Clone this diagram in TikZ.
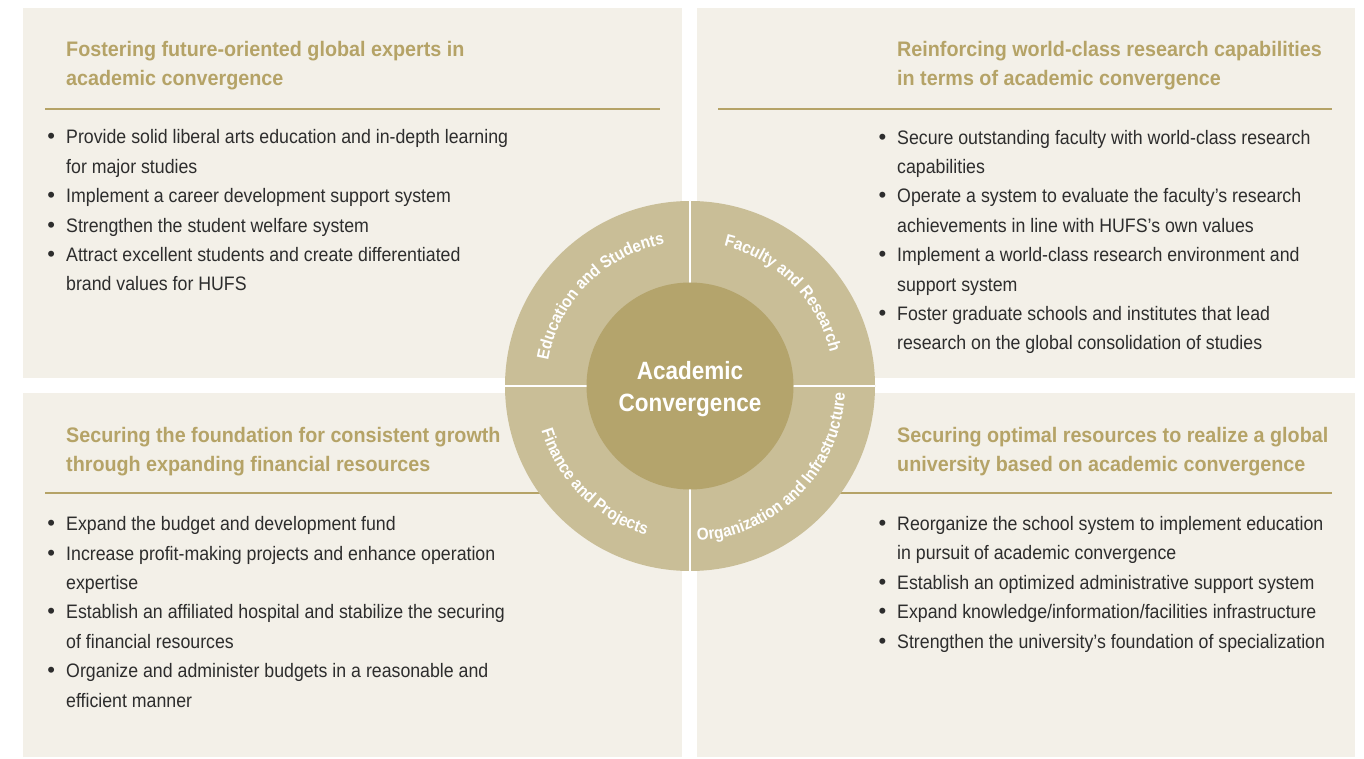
\documentclass[tikz,border=0pt]{standalone}
\usepackage{fontspec}
\setmainfont[FakeStretch=0.91]{Liberation Sans}
\newfontfamily\ttlfont[FakeStretch=0.94]{Liberation Sans}
\newfontfamily\corefont[FakeStretch=0.9]{Liberation Sans}
\newfontfamily\bulfont{Liberation Sans}
\usetikzlibrary{positioning,decorations.text}

\definecolor{panelbg}{RGB}{243,240,232}
\definecolor{ringc}{RGB}{201,190,151}
\definecolor{corec}{RGB}{180,164,108}
\definecolor{golden}{RGB}{181,163,103}
\definecolor{bodyc}{RGB}{45,45,45}

\newcommand{\itm}{\llap{{\bulfont\fontsize{22}{22}\selectfont\textbullet}\hspace{11pt}}}
\newcommand{\ringfont}{\corefont\bfseries\fontsize{17}{17}\selectfont}

\tikzset{
  panel/.style={fill=panelbg},
  ttl/.style={font=\ttlfont\bfseries\fontsize{21}{29}\selectfont, text=golden,
    align=left, inner sep=0pt, anchor=base west},
  bul/.style={font=\fontsize{19.5}{29.4}\selectfont, text=bodyc,
    align=left, inner sep=0pt, anchor=base west},
  sepline/.style={draw=golden, line width=1.2pt},
  ringlabel/.style={decorate, decoration={text along path, text align=center, text color=white}},
}

\begin{document}
\begin{tikzpicture}[x=1pt,y=1pt]
        \useasboundingbox (0,0) rectangle (1364,758);
        \fill[white] (0,0) rectangle (1364,758);

        % Paneles
        \fill[panel] (23,380) rectangle (682,750);
        \fill[panel] (697,380) rectangle (1355,750);
        \fill[panel] (23,1) rectangle (682,365);
        \fill[panel] (697,1) rectangle (1355,365);

        % Lineas bajo los titulos
        \draw[sepline] (45,649) -- (660,649);
        \draw[sepline] (718,649) -- (1332,649);
        \draw[sepline] (45,265) -- (660,265);
        \draw[sepline] (718,265) -- (1332,265);

        % Titulos (anclados en la linea base de la ultima linea)
        \node[ttl] (tlTitle) at (66,672) {Fostering future-oriented global experts in\\academic convergence};
        \node[ttl] (trTitle) at (897,672) {Reinforcing world-class research capabilities\\in terms of academic convergence};
        \node[ttl] (blTitle) at (66,286) {Securing the foundation for consistent growth\\through expanding financial resources};
        \node[ttl] (brTitle) at (897,286) {Securing optimal resources to realize a global\\university based on academic convergence};

        % Listas
        \node[bul] (tlList) at (66,467) {\itm Provide solid liberal arts education and in-depth learning\\
            for major studies\\
            \itm Implement a career development support system\\
            \itm Strengthen the student welfare system\\
            \itm Attract excellent students and create differentiated\\
            brand values for HUFS};
        \node[bul] (trList) at (897,408) {\itm Secure outstanding faculty with world-class research\\
            capabilities\\
            \itm Operate a system to evaluate the faculty’s research\\
            achievements in line with HUFS’s own values\\
            \itm Implement a world-class research environment and\\
            support system\\
            \itm Foster graduate schools and institutes that lead\\
            research on the global consolidation of studies};
        \node[bul] (blList) at (66,51) {\itm Expand the budget and development fund\\
            \itm Increase profit-making projects and enhance operation\\
            expertise\\
            \itm Establish an affiliated hospital and stabilize the securing\\
            of financial resources\\
            \itm Organize and administer budgets in a reasonable and\\
            efficient manner};
        \node[bul] (brList) at (897,110) {\itm Reorganize the school system to implement education\\
            in pursuit of academic convergence\\
            \itm Establish an optimized administrative support system\\
            \itm Expand knowledge/information/facilities infrastructure\\
            \itm Strengthen the university’s foundation of specialization};

        % Circulo central
        \coordinate (cen) at (690,372);
        \fill[ringc] (cen) circle[radius=185pt];
        \draw[white, line width=2pt] ([xshift=-185pt]cen) -- ([xshift=185pt]cen);
        \draw[white, line width=2pt] ([yshift=-185pt]cen) -- ([yshift=185pt]cen);
        \fill[corec] (cen) circle[radius=103.5pt];
        \node[text=white, align=center, inner sep=0pt,
            font=\corefont\bfseries\fontsize{25}{32}\selectfont] (core) at ([yshift=-3pt]cen) {Academic\\Convergence};

        % Textos del anillo
        \path[ringlabel, decoration={text={|\ringfont|Education and Students}}]
            ([shift={(180:144pt)}]cen) arc[start angle=180, end angle=90, radius=144pt];
        \path[ringlabel, decoration={text={|\ringfont|Faculty and Research}}]
            ([shift={(90:144pt)}]cen) arc[start angle=90, end angle=0, radius=144pt];
        \path[ringlabel, decoration={text={|\ringfont|Finance and Projects}}]
            ([shift={(180:155pt)}]cen) arc[start angle=180, end angle=270, radius=155pt];
        \path[ringlabel, decoration={text={|\ringfont|Organization and Infrastructure}}]
            ([shift={(270:155pt)}]cen) arc[start angle=270, end angle=360, radius=155pt];
\end{tikzpicture}
\end{document}
